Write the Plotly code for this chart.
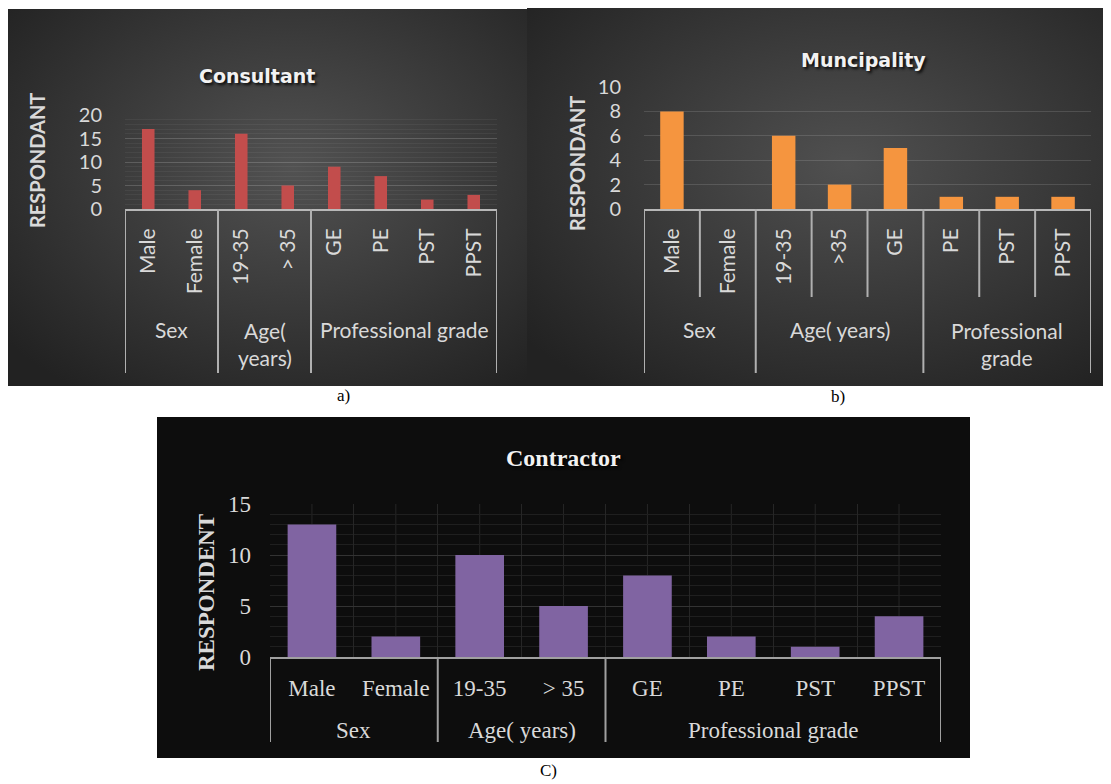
import base64
import plotly.graph_objects as go

# page offset of the figure inside the HTML body (default body margin)
OFF = 8
W, H = 1111 - OFF, 784 - OFF

# ---------------- data ----------------
categories_a = ["Male", "Female", "19-35", "> 35", "GE", "PE", "PST", "PPST"]
categories_b = ["Male", "Female", "19-35", ">35", "GE", "PE", "PST", "PPST"]
categories_c = ["Male", "Female", "19-35", "> 35", "GE", "PE", "PST", "PPST"]

group_labels_a = ["Sex", "Age(<br>years)", "Professional grade"]
group_sizes_a = [2, 2, 4]
group_labels_b = ["Sex", "Age( years)", "Professional<br>grade"]
group_sizes_b = [2, 3, 3]
group_labels_c = ["Sex", "Age( years)", "Professional grade"]
group_sizes_c = [2, 2, 4]

consultant = [17, 4, 16, 5, 9, 7, 2, 3]
municipality = [8, 0, 6, 2, 5, 1, 1, 1]
contractor = [13, 2, 10, 5, 8, 2, 1, 4]

yticks_a = [0, 5, 10, 15, 20]
yticks_b = [0, 2, 4, 6, 8, 10]
yticks_c = [0, 5, 10, 15]

titles = ["Consultant", "Muncipality", "Contractor"]
ytitles = ["RESPONDANT", "RESPONDANT", "RESPONDENT"]
captions = ["a)", "b)", "C)"]


# ---------------- helpers (page pixels -> paper fractions) ----------------
def px(x):
    return (x - OFF) / W


def py(y):
    return 1 - (y - OFF) / H


def radial_bg(c0, c1, cx, cy, r):
    svg = (
        '<svg xmlns="http://www.w3.org/2000/svg" width="200" height="200" '
        'viewBox="0 0 200 200" preserveAspectRatio="none">'
        f'<defs><radialGradient id="g" cx="{cx}" cy="{cy}" r="{r}">'
        f'<stop offset="0" stop-color="{c0}"/><stop offset="1" stop-color="{c1}"/>'
        '</radialGradient></defs><rect width="200" height="200" fill="url(#g)"/></svg>'
    )
    return "data:image/svg+xml;base64," + base64.b64encode(svg.encode()).decode()


SANS = "Lato"
SERIF = "Liberation Serif"
TXT = "#d9d9d9"

fig = go.Figure()

fig.add_trace(go.Bar(x=categories_a, y=consultant, xaxis="x", yaxis="y",
                     marker=dict(color="#c24d4c", line=dict(width=0)), width=0.27,
                     showlegend=False))
fig.add_trace(go.Bar(x=categories_b, y=municipality, xaxis="x2", yaxis="y2",
                     marker=dict(color="#f5953f", line=dict(width=0)), width=0.42,
                     showlegend=False))
fig.add_trace(go.Bar(x=categories_c, y=contractor, xaxis="x3", yaxis="y3",
                     marker=dict(color="#8064a2", line=dict(width=0)), width=0.58,
                     showlegend=False))

shapes = []
annotations = []
images = []

# panel backgrounds
images.append(dict(source=radial_bg("#525252", "#222222", 0.55, 0.42, 0.72),
                   xref="paper", yref="paper", x=px(7), y=py(9),
                   sizex=px(527) - px(7), sizey=py(9) - py(386),
                   xanchor="left", yanchor="top", sizing="stretch", layer="below"))
images.append(dict(source=radial_bg("#505050", "#222222", 0.55, 0.42, 0.72),
                   xref="paper", yref="paper", x=px(527), y=py(4),
                   sizex=px(1110) - px(527), sizey=py(4) - py(386),
                   xanchor="left", yanchor="top", sizing="stretch", layer="below"))
shapes.append(dict(type="rect", xref="paper", yref="paper",
                   x0=px(157), x1=px(970), y0=py(758), y1=py(417),
                   fillcolor="#0d0d0d", line=dict(width=0), layer="below"))


def separators(xref, sizes, y_top, y_bot_group, y_bot_inner, color, inner):
    n = sum(sizes)
    bounds = [-0.5]
    for s in sizes:
        bounds.append(bounds[-1] + s)
    for b in bounds:
        shapes.append(dict(type="line", xref=xref, yref="paper", x0=b, x1=b,
                           y0=py(y_top), y1=py(y_bot_group),
                           line=dict(color=color, width=2), layer="above"))
    if inner:
        for i in range(n - 1):
            b = i + 0.5
            if b not in bounds:
                shapes.append(dict(type="line", xref=xref, yref="paper", x0=b, x1=b,
                                   y0=py(y_top), y1=py(y_bot_inner),
                                   line=dict(color=color, width=2), layer="above"))
    return bounds


def group_labels(xref, sizes, labels, y_center, font, line_h):
    start = 0
    for s, lab in zip(sizes, labels):
        mid = start + (s - 1) / 2
        nl = lab.count("<br>") + 1
        annotations.append(dict(text=lab, xref=xref, yref="paper", x=mid,
                                y=py(y_center + (nl - 1) * line_h / 2),
                                showarrow=False, xanchor="center", yanchor="middle",
                                font=font))
        start += s


separators("x", group_sizes_a, 209, 373, 373, "#b0b0b0", False)
separators("x2", group_sizes_b, 209, 373, 297, "#b0b0b0", True)
separators("x3", group_sizes_c, 657, 742, 742, "#a0a0a0", False)

# vertical grid at category centres for panel c
for i in range(len(categories_c)):
    shapes.append(dict(type="line", xref="x3", yref="y3", x0=i, x1=i,
                       y0=0, y1=yticks_c[-1], line=dict(color="#262626", width=1),
                       layer="below"))

gl_font_ab = dict(family=SANS, size=21, color=TXT)
group_labels("x", group_sizes_a, group_labels_a, 329, gl_font_ab, 29)
group_labels("x2", group_sizes_b, group_labels_b, 329, gl_font_ab, 29)
group_labels("x3", group_sizes_c, group_labels_c, 730,
             dict(family=SERIF, size=23, color=TXT), 29)

# titles
shadow = "2px 2px 3px rgba(0,0,0,0.85)"
annotations.append(dict(text=titles[0], xref="paper", yref="paper", x=px(257), y=py(76),
                        showarrow=False, xanchor="center", yanchor="middle",
                        font=dict(family="DejaVu Sans", size=19, color="#f2f2f2",
                                  weight="bold", shadow=shadow)))
annotations.append(dict(text=titles[1], xref="paper", yref="paper", x=px(863), y=py(60),
                        showarrow=False, xanchor="center", yanchor="middle",
                        font=dict(family="DejaVu Sans", size=19, color="#f2f2f2",
                                  weight="bold", shadow=shadow)))
annotations.append(dict(text=titles[2], xref="paper", yref="paper", x=px(563), y=py(458),
                        showarrow=False, xanchor="center", yanchor="middle",
                        font=dict(family=SERIF, size=24, color="#f2f2f2",
                                  weight="bold", shadow=shadow)))

# y-axis titles
annotations.append(dict(text=ytitles[0], xref="paper", yref="paper", x=px(37), y=py(161),
                        showarrow=False, textangle=-90, xanchor="center", yanchor="middle",
                        font=dict(family=SANS, size=20, color=TXT, weight="bold")))
annotations.append(dict(text=ytitles[1], xref="paper", yref="paper", x=px(577), y=py(164),
                        showarrow=False, textangle=-90, xanchor="center", yanchor="middle",
                        font=dict(family=SANS, size=20, color=TXT, weight="bold")))
annotations.append(dict(text=ytitles[2], xref="paper", yref="paper", x=px(206), y=py(593),
                        showarrow=False, textangle=-90, xanchor="center", yanchor="middle",
                        font=dict(family=SERIF, size=23, color=TXT, weight="bold")))

# captions
for cap, (cx, cy) in zip(captions, [(343, 395), (838, 396), (548, 770)]):
    annotations.append(dict(text=cap, xref="paper", yref="paper", x=px(cx), y=py(cy),
                            showarrow=False, xanchor="center", yanchor="middle",
                            font=dict(family=SERIF, size=17, color="#000000")))

xcommon = dict(type="category", showgrid=False, zeroline=False, ticks="",
               showline=True, linewidth=2, fixedrange=True, automargin=False)

layout = dict(
    width=W, height=H,
    margin=dict(l=0, r=0, t=0, b=0, pad=0, autoexpand=False),
    paper_bgcolor="#ffffff",
    plot_bgcolor="rgba(0,0,0,0)",
    showlegend=False,
    xaxis=dict(xcommon, domain=[px(125), px(497)], anchor="y", range=[-0.5, 7.5],
               linecolor="#b8b8b8", tickangle=-90, ticklabelstandoff=9,
               tickfont=dict(family=SANS, size=21, color=TXT)),
    yaxis=dict(domain=[py(209), py(115)], anchor="x", range=[0, 20], automargin=False,
               tickmode="array", tickvals=yticks_a, ticks="",
               showgrid=True, gridcolor="rgba(255,255,255,0.13)", gridwidth=1,
               minor=dict(tickmode="linear", tick0=0, dtick=1, showgrid=True,
                          gridcolor="rgba(255,255,255,0.05)", ticks=""),
               zeroline=False, showline=False, ticklabelstandoff=22,
               tickfont=dict(family=SANS, size=20, color=TXT)),
    xaxis2=dict(xcommon, domain=[px(644), px(1091)], anchor="y2", range=[-0.5, 7.5],
                linecolor="#b8b8b8", tickangle=-90, ticklabelstandoff=9,
                tickfont=dict(family=SANS, size=21, color=TXT)),
    yaxis2=dict(domain=[py(209), py(87)], anchor="x2", range=[0, 10], automargin=False,
                tickmode="array", tickvals=yticks_b, ticks="",
                showgrid=True, gridcolor="rgba(255,255,255,0.13)", gridwidth=1,
                zeroline=False, showline=False, ticklabelstandoff=22,
                tickfont=dict(family=SANS, size=20, color=TXT)),
    xaxis3=dict(xcommon, domain=[px(270), px(941)], anchor="y3", range=[-0.5, 7.5],
                linecolor="#a0a0a0", tickangle=0, ticklabelstandoff=9,
                tickson="boundaries", showgrid=True, gridcolor="#262626",
                tickfont=dict(family=SERIF, size=23, color=TXT)),
    yaxis3=dict(domain=[py(657), py(504)], anchor="x3", range=[0, 15], automargin=False,
                tickmode="array", tickvals=yticks_c, ticks="",
                showgrid=True, gridcolor="#333333", gridwidth=1,
                minor=dict(tickmode="linear", tick0=0, dtick=1, showgrid=True,
                           gridcolor="#1f1f1f", ticks=""),
                zeroline=False, showline=False, ticklabelstandoff=18,
                tickfont=dict(family=SERIF, size=23, color=TXT)),
    shapes=shapes,
    annotations=annotations,
    images=images,
)

fig.update_layout(layout)
fig.write_html("out.html")
